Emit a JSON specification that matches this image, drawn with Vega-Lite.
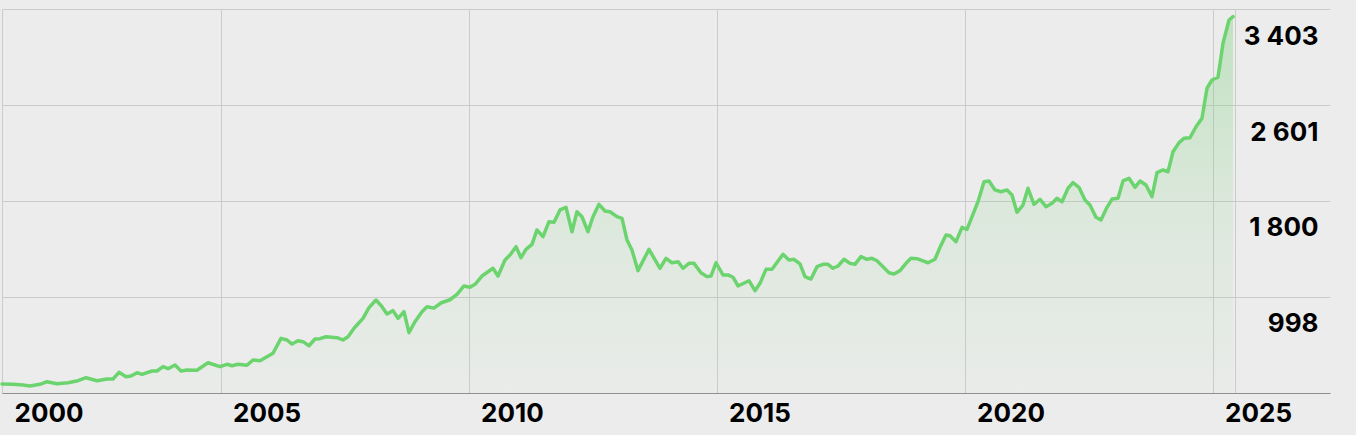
{
  "$schema": "https://vega.github.io/schema/vega-lite/v6.json",
  "width": 1328,
  "height": 384,
  "autosize": {"type": "none"},
  "padding": {"left": 2, "top": 9, "right": 26, "bottom": 42},
  "background": "#ececec",
  "config": {"view": {"stroke": null}, "font": "Inter"},
  "data": {"values": [
    {"t": 2000.593, "p": 272}, {"t": 2000.815, "p": 269}, {"t": 2001.016, "p": 263}, {"t": 2001.157, "p": 255},
    {"t": 2001.359, "p": 269}, {"t": 2001.5, "p": 291}, {"t": 2001.702, "p": 274}, {"t": 2001.923, "p": 282},
    {"t": 2002.125, "p": 299}, {"t": 2002.286, "p": 324}, {"t": 2002.508, "p": 299}, {"t": 2002.71, "p": 313},
    {"t": 2002.831, "p": 313}, {"t": 2002.952, "p": 369}, {"t": 2003.093, "p": 332}, {"t": 2003.194, "p": 338},
    {"t": 2003.315, "p": 366}, {"t": 2003.415, "p": 352}, {"t": 2003.617, "p": 380}, {"t": 2003.718, "p": 380},
    {"t": 2003.839, "p": 416}, {"t": 2003.94, "p": 399}, {"t": 2004.081, "p": 430}, {"t": 2004.202, "p": 380},
    {"t": 2004.323, "p": 388}, {"t": 2004.524, "p": 386}, {"t": 2004.746, "p": 449}, {"t": 2004.988, "p": 416},
    {"t": 2005.129, "p": 436}, {"t": 2005.23, "p": 424}, {"t": 2005.351, "p": 436}, {"t": 2005.532, "p": 428},
    {"t": 2005.653, "p": 472}, {"t": 2005.794, "p": 466}, {"t": 2005.935, "p": 499}, {"t": 2006.056, "p": 528},
    {"t": 2006.218, "p": 653}, {"t": 2006.339, "p": 639}, {"t": 2006.44, "p": 605}, {"t": 2006.56, "p": 633},
    {"t": 2006.661, "p": 625}, {"t": 2006.782, "p": 591}, {"t": 2006.903, "p": 647}, {"t": 2007.004, "p": 650},
    {"t": 2007.125, "p": 666}, {"t": 2007.347, "p": 658}, {"t": 2007.468, "p": 639}, {"t": 2007.569, "p": 666},
    {"t": 2007.69, "p": 737}, {"t": 2007.871, "p": 820}, {"t": 2007.992, "p": 909}, {"t": 2008.133, "p": 973},
    {"t": 2008.254, "p": 917}, {"t": 2008.355, "p": 856}, {"t": 2008.476, "p": 884}, {"t": 2008.577, "p": 820},
    {"t": 2008.698, "p": 875}, {"t": 2008.798, "p": 700}, {"t": 2008.919, "p": 792}, {"t": 2009.06, "p": 875},
    {"t": 2009.161, "p": 917}, {"t": 2009.3, "p": 905}, {"t": 2009.45, "p": 950}, {"t": 2009.625, "p": 975},
    {"t": 2009.766, "p": 1020}, {"t": 2009.907, "p": 1090}, {"t": 2010.028, "p": 1079}, {"t": 2010.129, "p": 1104},
    {"t": 2010.27, "p": 1173}, {"t": 2010.492, "p": 1238}, {"t": 2010.593, "p": 1173}, {"t": 2010.734, "p": 1307},
    {"t": 2010.835, "p": 1349}, {"t": 2010.956, "p": 1418}, {"t": 2011.056, "p": 1326}, {"t": 2011.157, "p": 1396},
    {"t": 2011.278, "p": 1438}, {"t": 2011.379, "p": 1558}, {"t": 2011.5, "p": 1502}, {"t": 2011.621, "p": 1627},
    {"t": 2011.722, "p": 1622}, {"t": 2011.843, "p": 1725}, {"t": 2011.964, "p": 1747}, {"t": 2012.085, "p": 1543},
    {"t": 2012.185, "p": 1710}, {"t": 2012.286, "p": 1669}, {"t": 2012.407, "p": 1543}, {"t": 2012.508, "p": 1669},
    {"t": 2012.629, "p": 1772}, {"t": 2012.75, "p": 1716}, {"t": 2012.851, "p": 1710}, {"t": 2012.992, "p": 1669},
    {"t": 2013.093, "p": 1655}, {"t": 2013.194, "p": 1474}, {"t": 2013.294, "p": 1391}, {"t": 2013.415, "p": 1218},
    {"t": 2013.637, "p": 1396}, {"t": 2013.859, "p": 1238}, {"t": 2013.98, "p": 1321}, {"t": 2014.101, "p": 1284},
    {"t": 2014.222, "p": 1293}, {"t": 2014.323, "p": 1238}, {"t": 2014.444, "p": 1279}, {"t": 2014.544, "p": 1279},
    {"t": 2014.685, "p": 1201}, {"t": 2014.806, "p": 1168}, {"t": 2014.887, "p": 1173}, {"t": 2014.988, "p": 1284},
    {"t": 2015.129, "p": 1182}, {"t": 2015.23, "p": 1182}, {"t": 2015.331, "p": 1163}, {"t": 2015.431, "p": 1090},
    {"t": 2015.653, "p": 1134}, {"t": 2015.774, "p": 1051}, {"t": 2015.875, "p": 1112}, {"t": 2015.996, "p": 1229},
    {"t": 2016.117, "p": 1229}, {"t": 2016.339, "p": 1355}, {"t": 2016.46, "p": 1307}, {"t": 2016.56, "p": 1313},
    {"t": 2016.681, "p": 1274}, {"t": 2016.782, "p": 1168}, {"t": 2016.903, "p": 1148}, {"t": 2017.024, "p": 1251},
    {"t": 2017.145, "p": 1271}, {"t": 2017.246, "p": 1271}, {"t": 2017.347, "p": 1238}, {"t": 2017.448, "p": 1257},
    {"t": 2017.569, "p": 1313}, {"t": 2017.69, "p": 1279}, {"t": 2017.79, "p": 1271}, {"t": 2017.911, "p": 1335},
    {"t": 2018.032, "p": 1313}, {"t": 2018.133, "p": 1321}, {"t": 2018.234, "p": 1301}, {"t": 2018.355, "p": 1251},
    {"t": 2018.476, "p": 1201}, {"t": 2018.577, "p": 1190}, {"t": 2018.698, "p": 1218}, {"t": 2018.819, "p": 1279},
    {"t": 2018.919, "p": 1321}, {"t": 2019.04, "p": 1318}, {"t": 2019.161, "p": 1299}, {"t": 2019.262, "p": 1284},
    {"t": 2019.403, "p": 1313}, {"t": 2019.504, "p": 1413}, {"t": 2019.625, "p": 1516}, {"t": 2019.706, "p": 1510},
    {"t": 2019.827, "p": 1460}, {"t": 2019.948, "p": 1580}, {"t": 2020.048, "p": 1563}, {"t": 2020.27, "p": 1794},
    {"t": 2020.391, "p": 1961}, {"t": 2020.492, "p": 1967}, {"t": 2020.613, "p": 1892}, {"t": 2020.734, "p": 1877},
    {"t": 2020.855, "p": 1892}, {"t": 2020.956, "p": 1850}, {"t": 2021.056, "p": 1705}, {"t": 2021.177, "p": 1766},
    {"t": 2021.278, "p": 1906}, {"t": 2021.399, "p": 1772}, {"t": 2021.52, "p": 1814}, {"t": 2021.641, "p": 1752},
    {"t": 2021.762, "p": 1781}, {"t": 2021.863, "p": 1822}, {"t": 2021.964, "p": 1794}, {"t": 2022.085, "p": 1906},
    {"t": 2022.185, "p": 1953}, {"t": 2022.306, "p": 1914}, {"t": 2022.427, "p": 1808}, {"t": 2022.528, "p": 1766},
    {"t": 2022.649, "p": 1664}, {"t": 2022.75, "p": 1641}, {"t": 2022.871, "p": 1747}, {"t": 2022.972, "p": 1816},
    {"t": 2023.093, "p": 1822}, {"t": 2023.194, "p": 1967}, {"t": 2023.315, "p": 1989}, {"t": 2023.435, "p": 1914},
    {"t": 2023.536, "p": 1967}, {"t": 2023.657, "p": 1933}, {"t": 2023.778, "p": 1836}, {"t": 2023.879, "p": 2036},
    {"t": 2024.0, "p": 2059}, {"t": 2024.101, "p": 2044}, {"t": 2024.202, "p": 2211}, {"t": 2024.323, "p": 2287},
    {"t": 2024.423, "p": 2323}, {"t": 2024.544, "p": 2328}, {"t": 2024.665, "p": 2420}, {"t": 2024.786, "p": 2490},
    {"t": 2024.887, "p": 2741}, {"t": 2024.988, "p": 2810}, {"t": 2025.109, "p": 2833}, {"t": 2025.21, "p": 3117},
    {"t": 2025.331, "p": 3311}, {"t": 2025.411, "p": 3339}
  ]},
  "encoding": {
    "x": {
      "field": "t", "type": "quantitative",
      "scale": {"domain": [2000.593, 2027.367], "nice": false, "zero": false},
      "axis": {
        "title": null,
        "values": [2000.593, 2005, 2010, 2015, 2020, 2025, 2025.45],
        "labelExpr": "datum.value < 2001 ? '2000' : (datum.value > 2025.2 ? '' : format(datum.value, 'd'))",
        "grid": true, "gridColor": "#cbcbcb", "gridWidth": 1,
        "domain": true, "domainColor": "#8f8f8f", "domainWidth": 1.2,
        "ticks": false, "tickSize": 0,
        "labelAlign": "left", "labelOffset": 12, "labelBaseline": "middle", "labelPadding": 20,
        "labelFont": "Inter", "labelFontSize": 26, "labelFontWeight": 700, "labelColor": "#000000",
        "labelFlush": false, "labelOverlap": false, "labelBound": false
      }
    },
    "y": {
      "field": "p", "type": "quantitative",
      "scale": {"domain": [196.3, 3403], "nice": false, "zero": false},
      "axis": {
        "title": null, "orient": "right",
        "values": [998, 1800, 2601, 3403],
        "labelExpr": "replace(format(datum.value, ',d'), ',', ' ')",
        "grid": true, "gridColor": "#cbcbcb", "gridWidth": 1,
        "domain": false, "ticks": false, "tickSize": 0,
        "labelAlign": "right", "labelPadding": -12, "labelBaseline": "middle", "labelOffset": 27,
        "labelFont": "Inter", "labelFontSize": 26, "labelFontWeight": 700, "labelColor": "#000000",
        "labelFlush": false, "labelOverlap": false, "labelBound": false
      }
    }
  },
  "layer": [
    {
      "mark": {
        "type": "area",
        "color": {
          "gradient": "linear", "x1": 0, "y1": 0, "x2": 0, "y2": 1,
          "stops": [
            {"offset": 0, "color": "rgba(110, 205, 110, 0.34)"},
            {"offset": 0.5, "color": "rgba(110, 205, 110, 0.13)"},
            {"offset": 1, "color": "rgba(110, 205, 110, 0.02)"}
          ]
        }
      },
      "encoding": {"y2": {"datum": 196.3}}
    },
    {
      "mark": {"type": "line", "color": "#6cd46e", "strokeWidth": 3.5, "strokeJoin": "round", "strokeCap": "round"},
      "encoding": {}
    }
  ]
}
